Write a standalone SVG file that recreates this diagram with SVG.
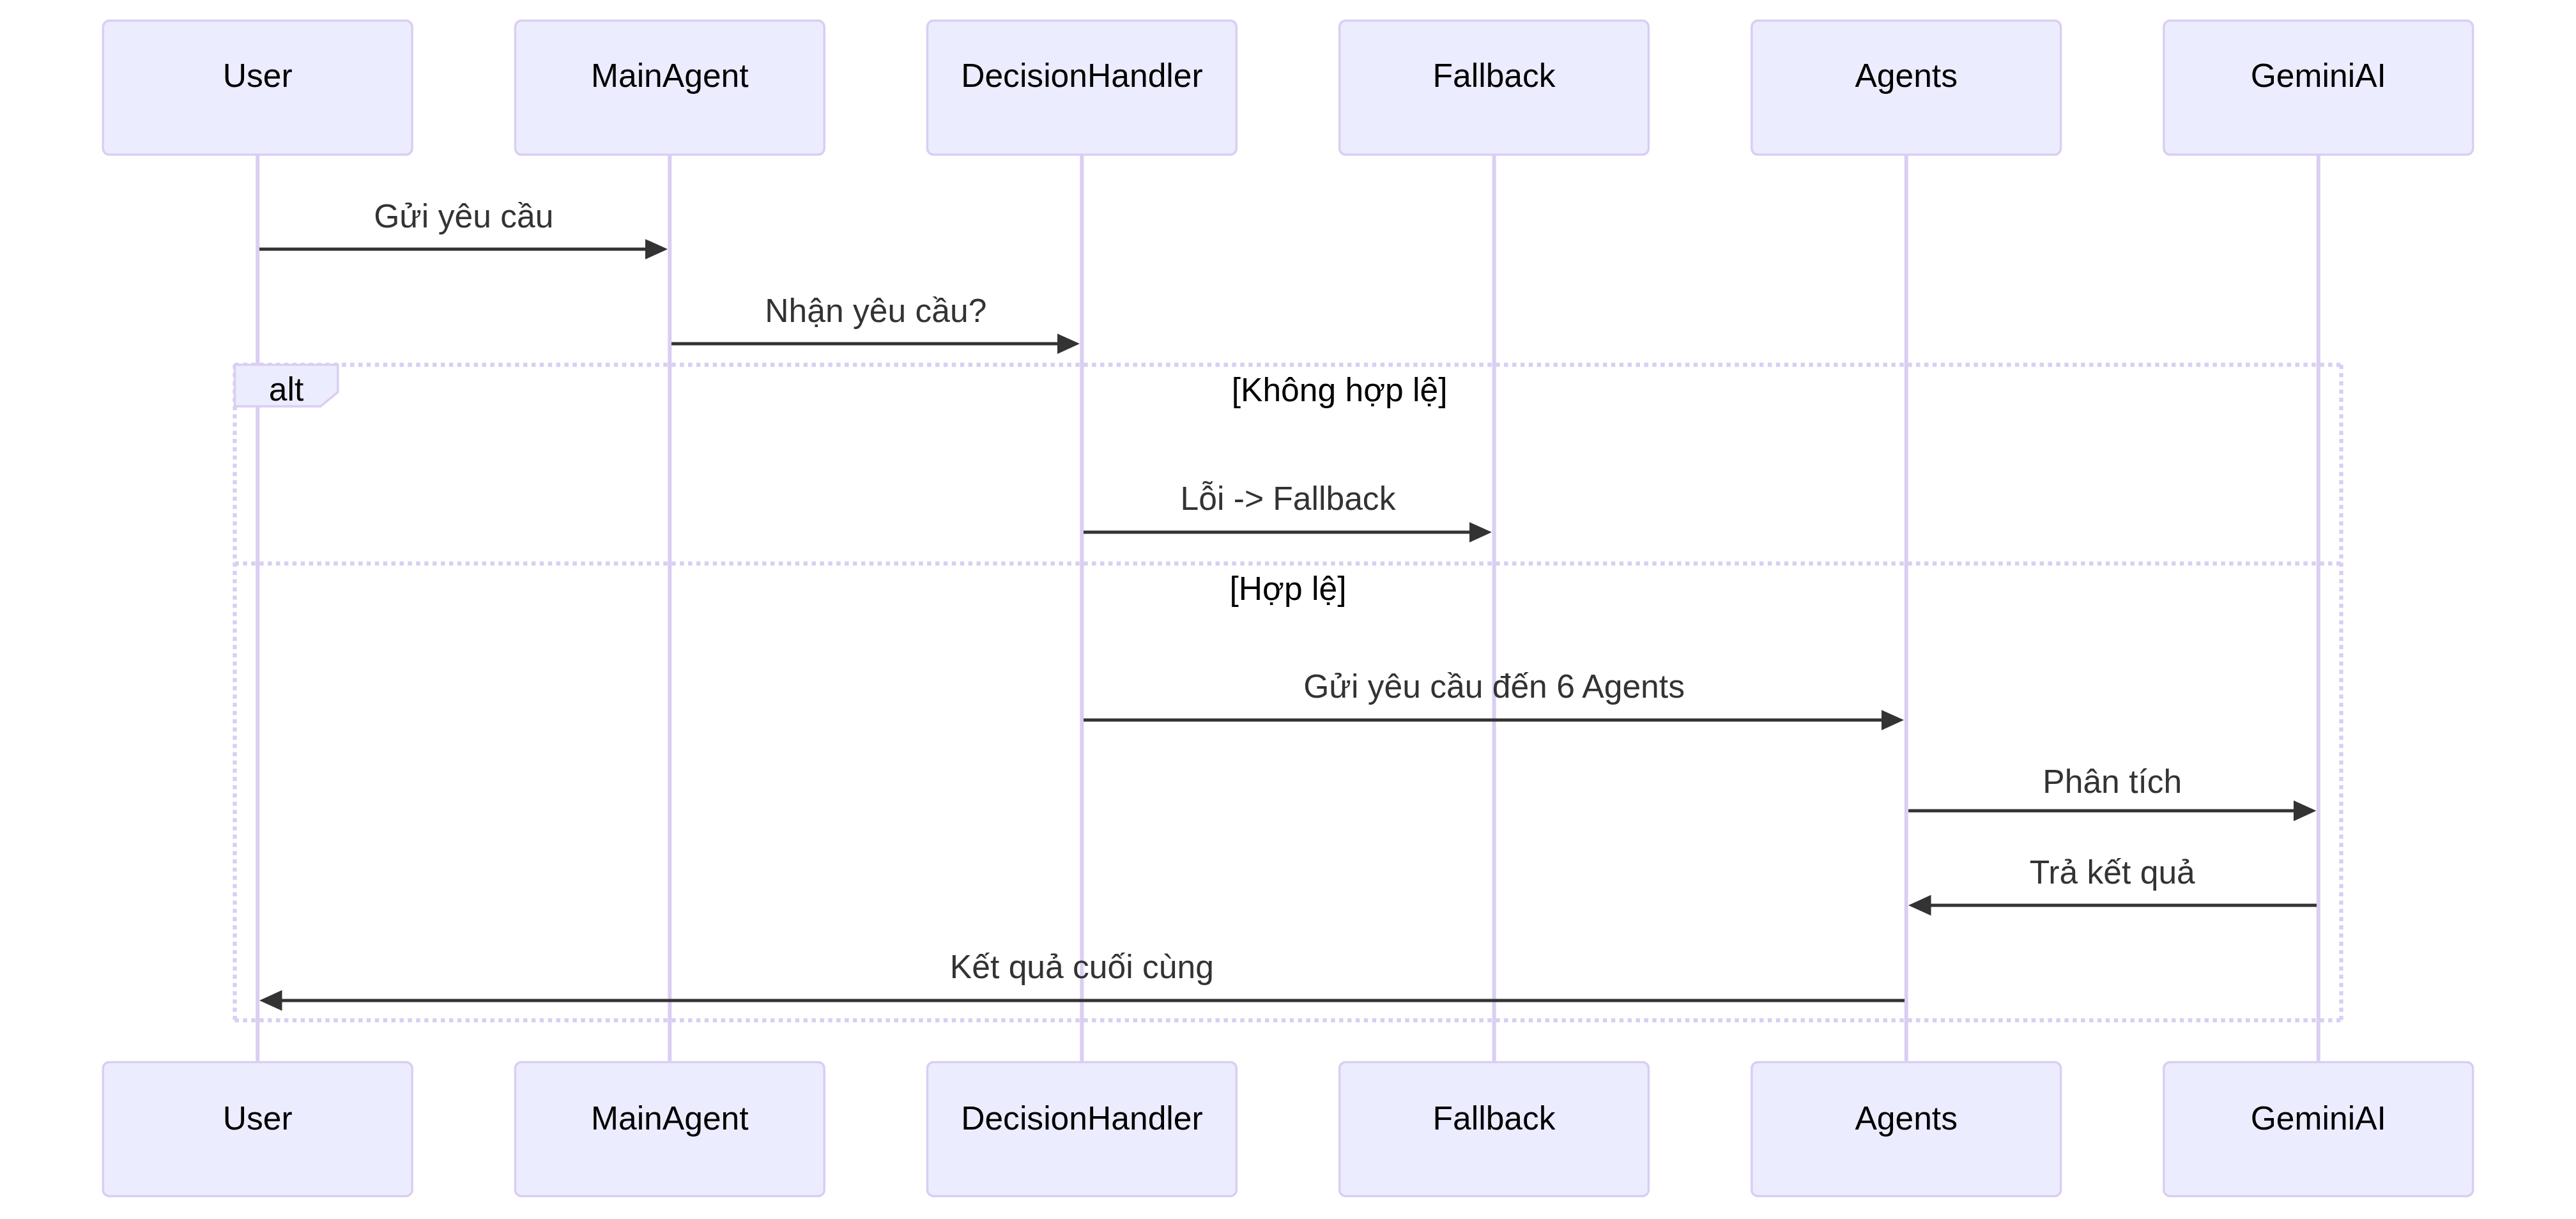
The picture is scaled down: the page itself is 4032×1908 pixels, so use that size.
<svg xmlns="http://www.w3.org/2000/svg" width="4032" height="1908" viewBox="0 0 4032 1908">
<style>
  .actor { fill: #ECECFF; stroke: #dacef3; stroke-width: 3.5; }
  .actor-text { font-family: "Liberation Sans", Arial, sans-serif; font-size: 51.6px; fill: #000; text-anchor: middle; }
  .lifeline { stroke: #dacef3; stroke-width: 6; }
  .msg { stroke: #333; stroke-width: 4.8; fill: none; marker-end: url(#arrowhead); }
  .msg-text { font-family: "Liberation Sans", Arial, sans-serif; font-size: 51.6px; fill: #333; text-anchor: middle; }
  .loop-line { stroke: #dacef3; stroke-width: 6.45; stroke-dasharray: 6.45 6.45; fill: none; }
  .label-box { fill: #ECECFF; stroke: #dacef3; stroke-width: 3.5; }
  .label-text { font-family: "Liberation Sans", Arial, sans-serif; font-size: 51.6px; fill: #000; text-anchor: middle; }
</style>
<defs>
  <marker id="arrowhead" markerUnits="userSpaceOnUse" markerWidth="40" markerHeight="40" refX="28" refY="16.1" orient="auto">
    <path d="M0,0 L35.5,16.1 L0,32.3 z" fill="#333"/>
  </marker>
</defs>
<rect width="4032" height="1908" fill="#ffffff"/>

<g id="lifelines">
  <line class="lifeline" x1="403.2" y1="242" x2="403.2" y2="1662"/>
  <line class="lifeline" x1="1048.3" y1="242" x2="1048.3" y2="1662"/>
  <line class="lifeline" x1="1693.4" y1="242" x2="1693.4" y2="1662"/>
  <line class="lifeline" x1="2338.6" y1="242" x2="2338.6" y2="1662"/>
  <line class="lifeline" x1="2983.7" y1="242" x2="2983.7" y2="1662"/>
  <line class="lifeline" x1="3628.8" y1="242" x2="3628.8" y2="1662"/>
</g>

<g id="User">
  <rect class="actor" x="161.3" y="32.3" width="483.8" height="209.7" rx="9.7"/>
  <text class="actor-text" x="403.2" y="136">User</text>
  <rect class="actor" x="161.3" y="1662.5" width="483.8" height="209.7" rx="9.7"/>
  <text class="actor-text" x="403.2" y="1768">User</text>
</g>
<g id="MainAgent">
  <rect class="actor" x="806.4" y="32.3" width="483.8" height="209.7" rx="9.7"/>
  <text class="actor-text" x="1048.3" y="136">MainAgent</text>
  <rect class="actor" x="806.4" y="1662.5" width="483.8" height="209.7" rx="9.7"/>
  <text class="actor-text" x="1048.3" y="1768">MainAgent</text>
</g>
<g id="DecisionHandler">
  <rect class="actor" x="1451.5" y="32.3" width="483.8" height="209.7" rx="9.7"/>
  <text class="actor-text" x="1693.4" y="136">DecisionHandler</text>
  <rect class="actor" x="1451.5" y="1662.5" width="483.8" height="209.7" rx="9.7"/>
  <text class="actor-text" x="1693.4" y="1768">DecisionHandler</text>
</g>
<g id="Fallback">
  <rect class="actor" x="2096.6" y="32.3" width="483.8" height="209.7" rx="9.7"/>
  <text class="actor-text" x="2338.6" y="136">Fallback</text>
  <rect class="actor" x="2096.6" y="1662.5" width="483.8" height="209.7" rx="9.7"/>
  <text class="actor-text" x="2338.6" y="1768">Fallback</text>
</g>
<g id="Agents">
  <rect class="actor" x="2741.8" y="32.3" width="483.8" height="209.7" rx="9.7"/>
  <text class="actor-text" x="2983.7" y="136">Agents</text>
  <rect class="actor" x="2741.8" y="1662.5" width="483.8" height="209.7" rx="9.7"/>
  <text class="actor-text" x="2983.7" y="1768">Agents</text>
</g>
<g id="GeminiAI">
  <rect class="actor" x="3386.9" y="32.3" width="483.8" height="209.7" rx="9.7"/>
  <text class="actor-text" x="3628.8" y="136">GeminiAI</text>
  <rect class="actor" x="3386.9" y="1662.5" width="483.8" height="209.7" rx="9.7"/>
  <text class="actor-text" x="3628.8" y="1768">GeminiAI</text>
</g>

<g id="alt-fragment">
  <line class="loop-line" x1="367.5" y1="571" x2="3664.5" y2="571"/>
  <line class="loop-line" x1="3664.5" y1="571" x2="3664.5" y2="1597"/>
  <line class="loop-line" x1="367.5" y1="1597" x2="3664.5" y2="1597"/>
  <line class="loop-line" x1="367.5" y1="571" x2="367.5" y2="1597"/>
  <line class="loop-line" x1="367.5" y1="882" x2="3664.5" y2="882"/>
  <polygon class="label-box" points="367.5,571 528.8,571 528.8,613.9 501.7,636 367.5,636"/>
  <text class="label-text" x="448" y="627">alt</text>
  <text class="label-text" x="2096.6" y="628">[Không hợp lệ]</text>
  <text class="label-text" x="2016" y="939">[Hợp lệ]</text>
</g>

<g id="connectors">
  <line class="msg" x1="406" y1="390" x2="1037.5" y2="390"/>
  <text class="msg-text" x="725.8" y="356">Gửi yêu cầu</text>

  <line class="msg" x1="1051" y1="538" x2="1682.5" y2="538"/>
  <text class="msg-text" x="1370.9" y="504">Nhận yêu cầu?</text>

  <line class="msg" x1="1696" y1="833" x2="2327.5" y2="833"/>
  <text class="msg-text" x="2016" y="798">Lỗi -&gt; Fallback</text>

  <line class="msg" x1="1696" y1="1127" x2="2972.5" y2="1127"/>
  <text class="msg-text" x="2338.6" y="1092">Gửi yêu cầu đến 6 Agents</text>

  <line class="msg" x1="2987" y1="1269" x2="3618" y2="1269"/>
  <text class="msg-text" x="3306.3" y="1241">Phân tích</text>

  <line class="msg" x1="3626" y1="1417" x2="2994.5" y2="1417"/>
  <text class="msg-text" x="3306.3" y="1383">Trả kết quả</text>

  <line class="msg" x1="2981" y1="1566" x2="413.5" y2="1566"/>
  <text class="msg-text" x="1693.4" y="1531">Kết quả cuối cùng</text>
</g>
</svg>
